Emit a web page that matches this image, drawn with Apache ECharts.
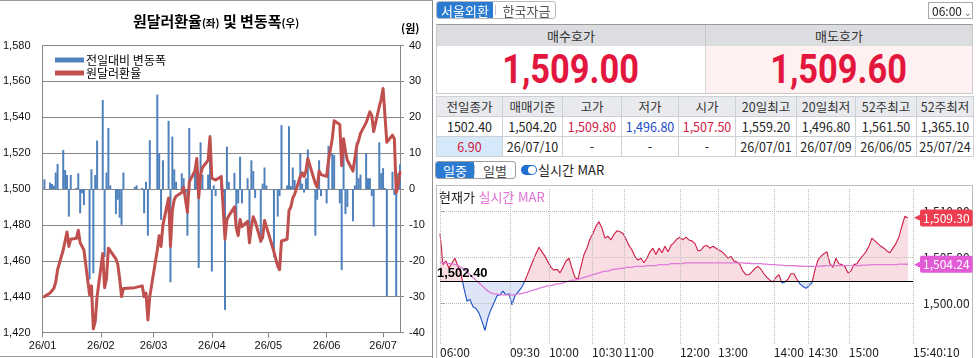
<!DOCTYPE html>
<html lang="ko">
<head>
<meta charset="utf-8">
<title>원달러환율 및 변동폭</title>
<script src="https://cdn.jsdelivr.net/npm/echarts@6.0.0/dist/echarts.min.js"></script>
<style>
  html,body{margin:0;padding:0;}
  body{width:976px;height:358px;overflow:hidden;background:#fff;position:relative;font-family:"Noto Sans CJK KR","Noto Sans",sans-serif;color:#222;}
  .abs{position:absolute;box-sizing:border-box;}
  #leftChart{left:0;top:0;width:432px;height:358px;}
  #intraChart{left:432px;top:186px;width:544px;height:172px;}
  .tabs{display:flex;align-items:stretch;font-size:13px;line-height:15px;border:1px solid #b9b9b9;border-radius:3px;overflow:hidden;background:#fff}
  .tabs .on{background:#2b7bd3;color:#fff;display:flex;align-items:center;justify-content:center;}
  .tabs .off{color:#555;display:flex;align-items:center;justify-content:center;}
  .sep{width:1px;background:#c8c8c8;margin:3px 2px;}
  .hdr{display:flex;align-items:center;justify-content:center;font-size:13px;color:#333;background:#dcdde1;line-height:15px}
  .price{display:flex;align-items:center;justify-content:center;font-family:Roboto,"Liberation Sans",sans-serif;font-weight:700;font-size:40px;color:#e3173e;}
  .price span{display:inline-block;transform:scaleX(0.86);}
  table.info{border-collapse:collapse;table-layout:fixed;font-size:12.5px;}
  table.info td{border:1px solid #cdd0d5;height:19px;padding:0;text-align:center;line-height:14px;white-space:nowrap;overflow:hidden;color:#222}
  table.info tr.head td{background:#e8eaed;color:#333}
  .btns{display:flex;font-size:13px;line-height:15px;border:1px solid #9d9d9d;border-radius:3px;overflow:hidden;}
</style>
</head>
<body>
<div id="leftChart" class="abs"></div>
<div class="abs" style="left:0;top:0;width:432px;height:1px;background:#9a9a9a"></div>
<div class="abs" style="left:0;top:356px;width:432px;height:1px;background:#9a9a9a"></div>
<div class="abs" style="left:432px;top:0;width:1px;height:358px;background:#8e8e8e"></div>

<!-- top tabs -->
<div class="abs tabs" style="left:436px;top:1px;width:120px;height:18px;">
  <div class="on" style="width:56px">서울외환</div><div class="sep"></div><div class="off" style="flex:1">한국자금</div>
</div>
<div class="abs" style="left:928px;top:2px;width:45px;height:17px;border:1px solid #aaa;font-size:12px;line-height:15px;padding-left:3px;color:#222;font-family:'Noto Sans CJK KR'">06:00<span style="font-size:9px;color:#666;margin-left:2px">&#8964;</span></div>

<!-- bid / ask -->
<div class="abs" style="left:436px;top:24px;width:537px;height:70px;border:1px solid #c9c9c9;border-top:1px solid #9a9a9a"></div>
<div class="abs hdr" style="left:437px;top:25px;width:268px;height:21px;">매수호가</div>
<div class="abs hdr" style="left:705px;top:25px;width:267px;height:21px;border-left:1px solid #c6c6c6">매도호가</div>
<div class="abs price" style="left:437px;top:46px;width:268px;height:47px;background:#fff"><span id="bidTxt"></span></div>
<div class="abs price" style="left:705px;top:46px;width:267px;height:47px;background:#fff0f1;border-left:1px solid #d6d6d6"><span id="askTxt"></span></div>

<!-- info table -->
<div class="abs" style="left:436px;top:96px;">
  <table class="info" id="infoTable"></table>
</div>

<!-- intraday / daily buttons -->
<div class="abs btns" style="left:435px;top:161px;width:81px;height:18px;">
  <div style="width:38px;background:#2b7bd3;color:#fff;display:flex;align-items:center;justify-content:center">일중</div>
  <div style="width:1px;background:#bbb;margin:3px 0"></div>
  <div style="flex:1;color:#444;display:flex;align-items:center;justify-content:center">일별</div>
</div>
<div class="abs" style="left:521px;top:165px;width:16px;height:10px;border-radius:5px;background:#1f6fd1"></div>
<div class="abs" style="left:528px;top:166px;width:8px;height:8px;border-radius:4px;background:#fff"></div>
<div class="abs" style="left:538px;top:162px;font-size:13px;line-height:16px;color:#222">실시간 MAR</div>

<!-- intraday box -->
<div class="abs" style="left:436px;top:185px;width:537px;height:173px;border:1px solid #bdbdbd;border-bottom:none"></div>
<div id="intraChart" class="abs"></div>
<div class="abs" style="left:439px;top:189px;font-size:13px;line-height:15px;color:#222;">현재가 <span style="color:#e06fd6">실시간 MAR</span></div>

<script>
// ================= DATA =================
// Daily series (trading days, 2026)
const tradeDates = [
  '01/02','01/05','01/06','01/07','01/08','01/09','01/12','01/13','01/14','01/15','01/16','01/19','01/20','01/21','01/22','01/23','01/26','01/27','01/28','01/29','01/30',
  '02/02','02/03','02/04','02/05','02/06','02/09','02/10','02/11','02/12','02/13','02/19','02/20','02/23','02/24','02/25','02/26','02/27',
  '03/03','03/04','03/05','03/06','03/09','03/10','03/11','03/12','03/13','03/16','03/17','03/18','03/19','03/20','03/23','03/24','03/25','03/26','03/27','03/30','03/31',
  '04/01','04/02','04/03','04/06','04/07','04/08','04/09','04/10','04/13','04/14','04/15','04/16','04/17','04/20','04/21','04/22','04/23','04/24','04/27','04/28','04/29','04/30',
  '05/04','05/06','05/07','05/08','05/11','05/12','05/13','05/14','05/15','05/18','05/19','05/20','05/21','05/22','05/26','05/27','05/28','05/29',
  '06/01','06/02','06/04','06/05','06/08','06/09','06/10','06/11','06/12','06/15','06/16','06/17','06/18','06/19','06/22','06/23','06/24','06/25','06/26','06/29','06/30',
  '07/01','07/02','07/03','07/06','07/07','07/08','07/09','07/10'
];
const usdKrwRate = [
  1440,1442,1443,1444.5,1448,1455,1466,1471,1476,1468,1472,1472.5,1477,1470,1469,1466,1441,1446,1422,1426,1440,
  1464,1445,1450,1467,1468,1461,1458,1450,1440,1444.5,1445,1446,1446,1440,1442,1427,1440,
  1466,1474,1468,1480,1495,1468,1488,1494,1496,1498,1501,1500,1487,1504,1510,1517,1495,1508,1512,1516,1529,
  1506,1507,1505,1507,1506,1472,1483,1485,1490,1478,1474,1483,1479,1482,1470,1479,1484.5,1482,1471,1473,1482.5,1482,
  1465,1457,1455,1471,1472,1488,1490,1495,1497,1507,1509,1507,1510,1517,1503,1501,1510,1508,
  1507,1516,1528,1538,1536,1513,1528,1521,1516,1510,1511,1524,1527,1531,1537,1540,1543,1541,1532,1546,1550,
  1556,1556,1526,1530,1528,1498,1502.4,1509.3
];
const dailyChange = [
  2.7,1.8,1.4,0.9,4.6,7.0,10.9,5.3,3.9,-7.7,3.9,0.3,4.4,-6.8,-1.2,-4.5,-25.2,5.5,-23.5,3.9,13.5,
  24.8,-19.0,4.6,17.0,1.0,-7.0,-3.0,-8.0,-10.0,4.6,0.6,1.0,0.3,-6.8,2.0,-13.0,13.6,
  26.3,10.0,-8.6,8.0,19.0,-26.0,14.6,5.5,2.0,4.4,3.0,-1.0,-13.0,17.0,6.0,7.0,-22.0,13.0,4.0,4.0,15.0,
  -23.0,1.0,-2.0,2.0,-1.0,-33.7,11.8,2.0,4.5,-10.0,-4.0,9.0,-4.0,3.0,-11.0,8.0,5.0,-2.5,-15.0,1.5,6.0,1.0,
  -19.0,-7.7,-2.0,17.8,1.0,17.5,0.8,6.0,2.5,10.0,1.5,-1.0,3.0,11.0,-13.0,-3.0,8.0,-2.0,
  -4.0,12.0,10.0,9.5,-4.0,-22.6,14.0,-7.0,-5.0,-9.0,1.0,13.0,3.0,4.0,10.0,3.0,3.0,-2.0,-10.5,13.0,4.4,
  5.8,0.3,-30.0,4.8,-1.7,-30.0,4.4,6.9
];
const dateAxisStart = '2026-01-01';
const dateAxisEnd = '2026-07-10';
const rateTicks = { min: 1420, max: 1580, step: 20 };
const changeTicks = { min: -40, max: 40, step: 10 };

// Quote panel
const bidPrice = '1,509.00';
const askPrice = '1,509.60';
const infoHeaders = ['전일종가','매매기준','고가','저가','시가','20일최고','20일최저','52주최고','52주최저'];
const infoValues  = ['1502.40','1,504.20','1,509.80','1,496.80','1,507.50','1,559.20','1,496.80','1,561.50','1,365.10'];
const infoDates   = ['6.90','26/07/10','-','-','-','26/07/01','26/07/09','26/06/05','25/07/24'];

// Intraday (tick samples, 06:00 ~ 15:40:10)
const prevClose = 1502.4;
const priceIntraday = [
  1507.6,1504.2,1504.6,1503.8,1504.4,1504.9,1504.0,1503.2,1501.6,1500.2,
  1500.4,1499.6,1499.4,1498.9,1498.0,1497.0,1498.4,1499.3,1500.0,1500.8,
  1500.9,1501.3,1500.9,1501.0,1499.8,1500.8,1501.2,1501.6,1502.2,1503.0,
  1503.8,1504.6,1505.4,1506.1,1505.6,1505.1,1504.5,1503.9,1503.6,1503.7,
  1503.3,1503.9,1504.6,1504.9,1503.8,1502.8,1502.6,1504.0,1505.3,1506.0,
  1507.0,1507.6,1508.4,1508.9,1508.2,1507.1,1507.3,1506.9,1507.5,1507.9,
  1507.8,1507.6,1507.0,1506.3,1505.8,1505.1,1504.7,1504.9,1504.4,1504.9,
  1505.6,1506.0,1505.3,1506.0,1505.5,1506.2,1505.6,1506.3,1506.6,1507.0,
  1507.2,1506.9,1507.2,1506.9,1506.8,1506.5,1505.7,1505.8,1506.2,1506.3,
  1506.0,1506.2,1506.0,1505.8,1505.6,1505.3,1504.9,1505.1,1504.6,1504.5,
  1504.2,1503.5,1503.1,1503.1,1503.4,1503.8,1504.0,1503.7,1503.2,1502.8,
  1502.5,1502.3,1502.8,1503.1,1502.2,1502.3,1502.6,1503.2,1503.2,1502.6,
  1502.1,1501.8,1501.6,1501.9,1502.2,1503.6,1504.7,1505.1,1505.4,1505.6,
  1504.3,1503.9,1504.9,1504.3,1504.2,1504.0,1503.3,1503.5,1504.2,1504.3,
  1504.8,1505.2,1505.6,1506.2,1507.1,1506.8,1506.5,1506.2,1506.0,1505.7,
  1505.5,1506.0,1506.5,1507.2,1508.4,1509.5,1509.3
];
const marIntraday = [
  1504.5,1504.4,1504.4,1504.3,1504.3,1504.2,1504.1,1503.9,1503.7,1503.4,
  1503.1,1502.8,1502.5,1502.2,1501.9,1501.6,1501.3,1501.1,1501.0,1501.0,
  1500.9,1500.9,1500.9,1500.9,1500.9,1500.9,1501.0,1501.0,1501.1,1501.2,
  1501.3,1501.4,1501.5,1501.6,1501.7,1501.8,1501.9,1501.9,1502.0,1502.1,
  1502.1,1502.2,1502.3,1502.4,1502.5,1502.5,1502.6,1502.7,1502.8,1502.9,
  1503.0,1503.1,1503.2,1503.3,1503.4,1503.5,1503.5,1503.6,1503.7,1503.7,
  1503.8,1503.8,1503.9,1503.9,1503.9,1504.0,1504.0,1504.0,1504.0,1504.1,
  1504.1,1504.1,1504.1,1504.2,1504.2,1504.2,1504.2,1504.3,1504.3,1504.3,
  1504.3,1504.3,1504.4,1504.4,1504.4,1504.4,1504.4,1504.4,1504.4,1504.4,
  1504.4,1504.4,1504.4,1504.4,1504.4,1504.4,1504.4,1504.4,1504.4,1504.4,
  1504.4,1504.4,1504.35,1504.35,1504.3,1504.3,1504.3,1504.3,1504.25,1504.25,
  1504.2,1504.2,1504.2,1504.15,1504.15,1504.1,1504.1,1504.1,1504.1,1504.05,
  1504.05,1504.0,1504.0,1504.0,1504.0,1504.0,1504.0,1504.05,1504.05,1504.1,
  1504.1,1504.1,1504.1,1504.1,1504.1,1504.1,1504.1,1504.1,1504.1,1504.1,
  1504.1,1504.15,1504.15,1504.15,1504.2,1504.2,1504.2,1504.2,1504.2,1504.2,
  1504.2,1504.2,1504.2,1504.25,1504.25,1504.24,1504.24
];
const currentPrice = 1509.30;
const currentMar = 1504.24;
const intradayTimeLabels = ['06:00','09:30','10:00','10:30','11:00','12:00','13:00','14:00','14:30','15:00','15:40:10'];
const intradayTimeIndex  = [0, 23.3, 36.3, 50.7, 61.3, 80, 92.7, 111.3, 122.7, 136.3, 157.7];
const intradayPriceTicks = [1500, 1505, 1510];

// ================= BUILD =================
const fmt2 = v => Number(v).toLocaleString('en-US', {minimumFractionDigits: 2, maximumFractionDigits: 2});

document.getElementById('bidTxt').textContent = bidPrice;
document.getElementById('askTxt').textContent = askPrice;
(function buildTable(){
  const widths = [66, 60, 59, 57, 57, 61, 59, 61, 57];
  const colors = ['#222','#222','#d3173f','#2049c5','#d3173f','#222','#222','#222','#222'];
  let h = '<colgroup>' + widths.map(w => '<col style="width:' + w + 'px">').join('') + '</colgroup>';
  h += '<tr class="head">' + infoHeaders.map(t => '<td>' + t + '</td>').join('') + '</tr>';
  h += '<tr>' + infoValues.map((t, i) => '<td style="color:' + colors[i] + '">' + t + '</td>').join('') + '</tr>';
  h += '<tr>' + infoDates.map((t, i) => i === 0
      ? '<td style="background:#d6e9fb;color:#d3173f">' + t + '</td>'
      : '<td>' + t + '</td>').join('') + '</tr>';
  const tb = document.getElementById('infoTable');
  tb.innerHTML = h;
  tb.style.width = widths.reduce((a, b) => a + b, 0) + 'px';
})();

// calendar axis (date axis like the original)
const calendarDays = [];
for (let t = Date.parse(dateAxisStart + 'T00:00:00Z'); t <= Date.parse(dateAxisEnd + 'T00:00:00Z'); t += 86400000) {
  calendarDays.push(new Date(t).toISOString().slice(0, 10));
}
const dayPos = {};
calendarDays.forEach((d, i) => { dayPos[d] = i; });
const rateOnAxis = calendarDays.map(() => null);
const changeOnAxis = calendarDays.map(() => null);
tradeDates.forEach((md, i) => {
  const key = '2026-' + md.replace('/', '-');
  rateOnAxis[dayPos[key]] = usdKrwRate[i];
  changeOnAxis[dayPos[key]] = dailyChange[i];
});
const isMonthStart = (idx, val) => String(val).slice(8, 10) === '01';
const monthLabel = val => String(val).slice(2, 4) + '/' + String(val).slice(5, 7);

const numFont = '"Liberation Sans", Arial, sans-serif';
const krFont = '"Noto Sans CJK KR", sans-serif';

const leftChart = echarts.init(document.getElementById('leftChart'), null, {renderer: 'canvas'});
leftChart.setOption({
  animation: false,
  backgroundColor: 'transparent',
  title: [
    {
      text: '{a|원달러환율}{b|(좌)}{a| 및 변동폭}{b|(우)}',
      left: 'center', top: 9,
      textStyle: {
        rich: {
          a: {fontSize: 15, fontWeight: 'bold', color: '#000', fontFamily: krFont},
          b: {fontSize: 10.5, fontWeight: 'bold', color: '#000', fontFamily: krFont, padding: [3, 0, 0, 0]}
        }
      }
    },
    {text: '(원)', left: 396, top: 18, textStyle: {fontSize: 11, fontWeight: 'bold', color: '#000', fontFamily: krFont}}
  ],
  legend: {
    left: 50, top: 49, orient: 'vertical', itemWidth: 29, itemHeight: 5, itemGap: 1,
    textStyle: {fontSize: 12, color: '#000', fontFamily: krFont, padding: [0, 0, 0, -3]},
    data: [{name: '전일대비 변동폭', icon: 'rect'}, {name: '원달러환율', icon: 'rect'}]
  },
  grid: {left: 42.5, right: 32, top: 45.5, bottom: 25.5},
  xAxis: {
    type: 'category', data: calendarDays, boundaryGap: false,
    axisLine: {onZero: false, lineStyle: {color: '#868686'}},
    axisTick: {interval: isMonthStart, length: 5, lineStyle: {color: '#868686'}},
    axisLabel: {interval: isMonthStart, formatter: monthLabel, fontSize: 11, color: '#111', margin: 8, fontFamily: numFont},
    splitLine: {show: false}
  },
  yAxis: [
    {
      type: 'value', min: rateTicks.min, max: rateTicks.max, interval: rateTicks.step,
      axisLine: {show: true, lineStyle: {color: '#868686'}},
      axisTick: {show: false},
      axisLabel: {formatter: v => v.toLocaleString('en-US'), fontSize: 11, color: '#111', margin: 12, fontFamily: numFont},
      splitLine: {show: true, lineStyle: {color: '#868686', width: 1}}
    },
    {
      type: 'value', min: changeTicks.min, max: changeTicks.max, interval: changeTicks.step,
      axisLine: {show: true, lineStyle: {color: '#868686'}},
      axisTick: {show: true, length: 4, lineStyle: {color: '#868686'}},
      axisLabel: {fontSize: 11, color: '#111', margin: 9, fontFamily: numFont},
      splitLine: {show: false}
    }
  ],
  series: [
    {name: '전일대비 변동폭', type: 'bar', yAxisIndex: 1, data: changeOnAxis, barWidth: 2, itemStyle: {color: '#4f81bd'}},
    {name: '원달러환율', type: 'line', yAxisIndex: 0, data: rateOnAxis, connectNulls: true, symbol: 'none',
     lineStyle: {color: '#c0504d', width: 3, join: 'round', cap: 'round'}, itemStyle: {color: '#c0504d'}}
  ]
});

// ---------- intraday ----------
const yMin = 1495.52, yMax = 1512.58;
const gridStyle = {color: '#bcbcbc', type: 'dotted', width: 1};
const gridMarks = intradayTimeIndex.map(x => ({xAxis: x, lineStyle: gridStyle, label: {show: false}}))
  .concat(intradayPriceTicks.map(y => ({yAxis: y, lineStyle: gridStyle, label: {show: false}})));
const hiddenLine = {color: 'rgba(255,255,255,0)', width: 1, type: 'solid'};

const intraChart = echarts.init(document.getElementById('intraChart'), null, {renderer: 'canvas'});
intraChart.setOption({
  animation: false,
  backgroundColor: 'transparent',
  grid: {left: 8, right: 63, top: 2, bottom: 13},
  xAxis: {
    type: 'value', min: 0, max: 157.7,
    axisLine: {show: false}, axisTick: {show: false}, splitLine: {show: false},
    axisLabel: {
      customValues: intradayTimeIndex,
      formatter: v => { const k = intradayTimeIndex.indexOf(v); return k >= 0 ? intradayTimeLabels[k] : ''; },
      align: 'left', fontSize: 12, color: '#222', margin: 2, fontFamily: krFont
    }
  },
  yAxis: {
    type: 'value', position: 'right', min: yMin, max: yMax,
    axisLine: {show: false},
    axisTick: {show: true, customValues: intradayPriceTicks, length: 4, lineStyle: {color: '#999'}},
    axisLabel: {customValues: intradayPriceTicks, formatter: v => fmt2(v), fontSize: 12, color: '#222', margin: 10, fontFamily: krFont},
    splitLine: {show: false}
  },
  visualMap: {
    show: false, type: 'piecewise', seriesIndex: 0, dimension: 1,
    pieces: [
      {gt: 1490, lte: prevClose, color: '#1b4fc8'},
      {gt: prevClose, lte: 1520, color: '#cf1a42'}
    ]
  },
  series: [
    {
      name: '현재가', type: 'line', data: priceIntraday.map((v, i) => [i, v]), symbol: 'none',
      lineStyle: {width: 1.1}, areaStyle: {origin: prevClose, opacity: 0.15}, z: 2
    },
    {
      name: '실시간 MAR', type: 'line', data: marIntraday.map((v, i) => [i, v]), symbol: 'none',
      lineStyle: {width: 1.3, color: '#e07ad8'}, itemStyle: {color: '#e07ad8'}, z: 3,
      markLine: {
        silent: true, symbol: ['none', 'none'],
        data: gridMarks.concat([
          {yAxis: prevClose, lineStyle: {color: '#000', type: 'solid', width: 1},
           label: {show: true, position: 'insideStartTop', distance: [-3, 1], formatter: fmt2(prevClose),
                   color: '#000', fontWeight: 'bold', fontSize: 13, fontFamily: numFont}},
          {yAxis: currentPrice, lineStyle: hiddenLine,
           label: {
             show: true, position: 'end', distance: 1, formatter: '{a|◀}{b|' + fmt2(currentPrice) + '}',
             rich: {
               a: {color: '#ee3d50', fontSize: 9, padding: [0, -1, 0, 0]},
               b: {backgroundColor: '#ee3d50', color: '#fff', fontSize: 12, padding: [3, 3, 2, 3], borderRadius: 2, fontFamily: krFont}
             }
           }},
          {yAxis: currentMar, lineStyle: hiddenLine,
           label: {
             show: true, position: 'end', distance: 1, formatter: '{a|◀}{b|' + fmt2(currentMar) + '}',
             rich: {
               a: {color: '#e35ad6', fontSize: 9, padding: [0, -1, 0, 0]},
               b: {backgroundColor: '#e35ad6', color: '#fff', fontSize: 12, padding: [3, 3, 2, 3], borderRadius: 2, fontFamily: krFont}
             }
           }}
        ])
      }
    }
  ]
});
</script>
</body>
</html>
